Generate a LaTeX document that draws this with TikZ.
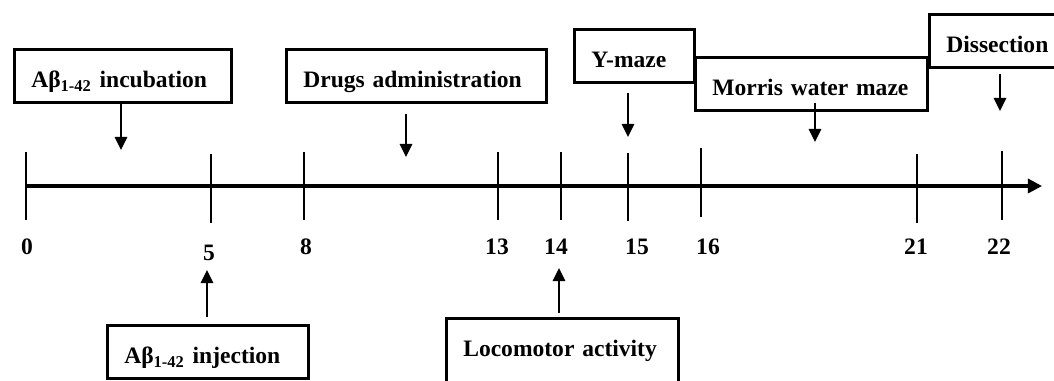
\documentclass[tikz,border=0pt]{standalone}
\usepackage{fontspec}
\setmainfont{Liberation Serif}
\usepackage{tikz}
\usetikzlibrary{arrows.meta,positioning,calc}
\tikzset{
  stagebox/.style={draw=black,line width=1.5pt,anchor=north west,align=left,inner xsep=.34cm,inner ysep=0pt,text height=.76cm,text depth=.3cm,font=\bfseries\fontsize{13.4}{15}\selectfont},
  daylabel/.style={inner sep=0pt,font=\bfseries\fontsize{13.4}{15}\selectfont},
  daytick/.style={line width=1.5pt},
  timeline/.style={-{Triangle[length=8pt,width=8pt]},line width=1.8pt},
  flow/.style={-{Triangle[length=7.5pt,width=7pt]},line width=1.3pt},
}

\begin{document}
\begin{tikzpicture}[x=.02cm,y=-.02cm]
  \useasboundingbox (0,0) rectangle (1054,381);
  % time axis
  \coordinate (t0) at (26,186);
  \coordinate (tend) at (1042,186);
  \draw[timeline] (t0) -- (tend);
  \draw[daytick] (26,152) -- (26,220);
  \draw[daytick] (211,154) -- (211,223);
  \draw[daytick] (304,152) -- (304,220);
  \draw[daytick] (498,152) -- (498,220);
  \draw[daytick,line width=1.25pt] (561,152) -- (561,220);
  \draw[daytick,line width=1.25pt] (628,153) -- (628,221);
  \draw[daytick,line width=1.25pt] (701,148) -- (701,217);
  \draw[daytick] (917,154) -- (917,223);
  \draw[daytick] (1002,151) -- (1002,220);
  % days
  \node[daylabel] (d0) at (27,247) {0};
  \node[daylabel] (d5) at (209,253) {5};
  \node[daylabel] (d8) at (306,247) {8};
  \node[daylabel] (d13) at (497,247) {13};
  \node[daylabel] (d14) at (556,247) {14};
  \node[daylabel] (d15) at (637,247) {15};
  \node[daylabel] (d16) at (708,247) {16};
  \node[daylabel] (d21) at (916,247) {21};
  \node[daylabel] (d22) at (999,247) {22};
  % stages
  \node[stagebox,text width=3.66cm] (incub) at (13,48) {Aβ\textsubscript{1-42} incubation};
  \node[stagebox,text width=4.52cm] (drugs) at (285,48) {Drugs administration};
  \node[stagebox,text width=1.72cm] (ymaze) at (573,28) {Y-maze};
  \node[stagebox,text width=3.96cm] (morris) at (694,56) {Morris water maze};
  \node[stagebox,text width=2.24cm] (dissect) at (928,13) {Dissection};
  \node[stagebox,text width=3.34cm] (inject) at (106,324) {Aβ\textsubscript{1-42} injection};
  \node[stagebox,text width=3.96cm,text depth=1.5cm] (locom) at (445,317) {Locomotor activity};
  % arrows
  \coordinate (aInc) at (121,150);
  \coordinate (aDrug) at (406,157);
  \coordinate (aY) at (628,137);
  \coordinate (aMor) at (815,142);
  \coordinate (aDis) at (1000,111);
  \coordinate (aInj) at (207,270);
  \coordinate (aLoc) at (559,268);
  \draw[flow] (incub.south -| aInc) -- (aInc);
  \draw[flow] ($(drugs.south -| aDrug)+(0,10)$) -- (aDrug);
  \draw[flow] ($(ymaze.south -| aY)+(0,9)$) -- (aY);
  \draw[flow] ($(morris.south -| aMor)+(0,-9)$) -- (aMor);
  \draw[flow] ($(dissect.south -| aDis)+(0,5)$) -- (aDis);
  \draw[flow] ($(inject.north -| aInj)+(0,-7)$) -- (aInj);
  \draw[flow] ($(locom.north -| aLoc)+(0,-4)$) -- (aLoc);
\end{tikzpicture}
\end{document}
